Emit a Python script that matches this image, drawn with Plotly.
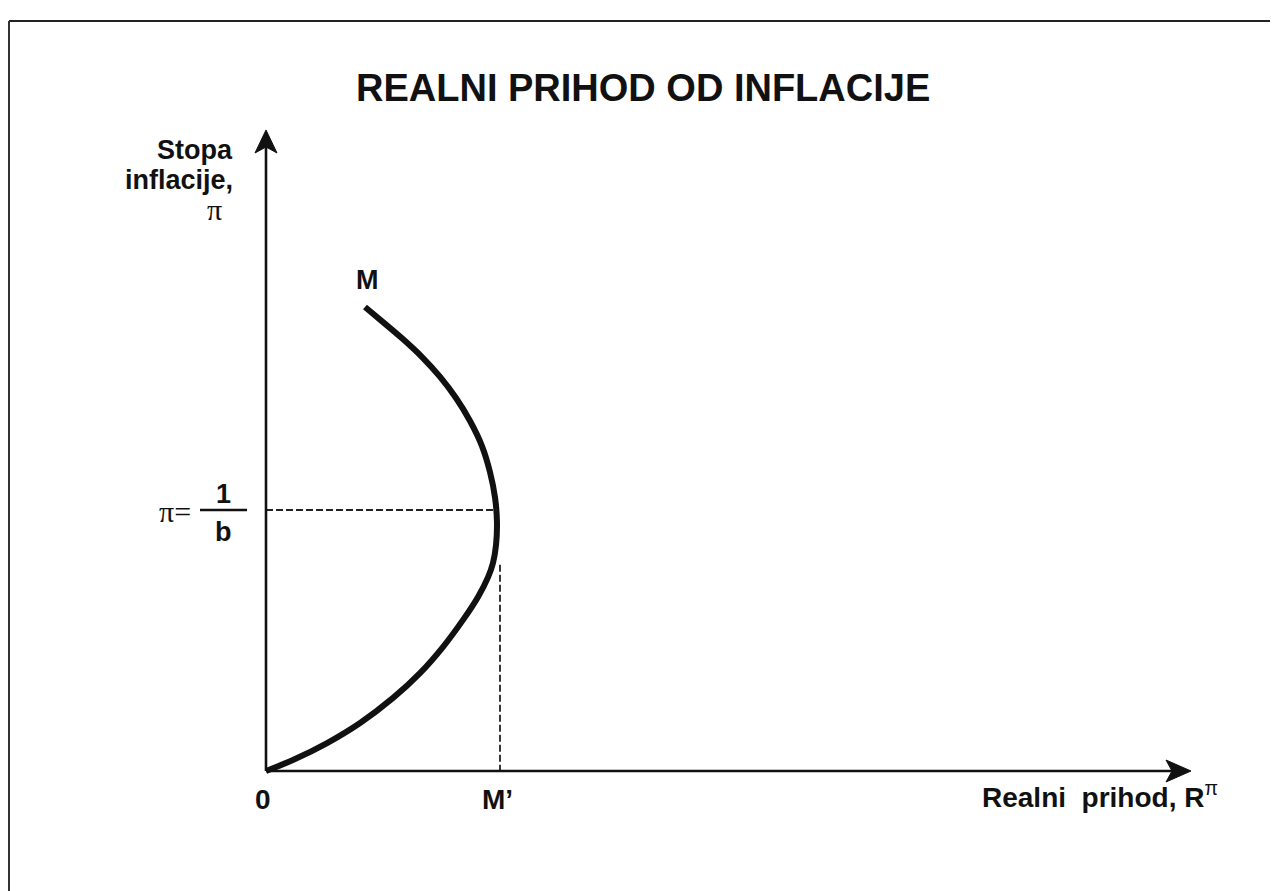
import plotly.graph_objects as go

# ---- data (x: real revenue in units of M', y: inflation rate in units of 1/b)
revenue = [0.423, 0.500, 0.585, 0.667, 0.744, 0.812, 0.872, 0.923, 0.957, 0.979, 0.987,
           0.983, 0.970, 0.949, 0.906, 0.842, 0.756, 0.658, 0.543, 0.402, 0.261, 0.115, 0.0]
inflation = [1.778, 1.720, 1.655, 1.586, 1.510, 1.429, 1.341, 1.245, 1.146, 1.046, 0.954,
             0.866, 0.797, 0.743, 0.667, 0.579, 0.475, 0.375, 0.280, 0.184, 0.107, 0.042, 0.0]
peak_revenue = 0.987
m_prime = 1.0          # M' on the revenue axis
pi_star = 1.0          # pi = 1/b on the inflation axis
x_tick_vals = [0.0, m_prime]
x_tick_text = ["0", "M\u2019"]
y_axis_top = 2.456
x_axis_end = 3.953

# page body has an 8px margin; figure fills the rest of the window
OFF = 8
W, H = 1278 - OFF, 891 - OFF
X0, XS = 266, 234   # reference pixel of origin, pixels per unit
Y0, YS = 771, 261


def px2paper(px, py):
    return (px - OFF) / W, 1 - (py - OFF) / H


fig = go.Figure()

# curve M
fig.add_trace(go.Scatter(x=revenue, y=inflation, mode="lines",
                         line=dict(color="#111", width=6, shape="spline", smoothing=1.0),
                         hoverinfo="skip", showlegend=False))

shapes = []
# dashed guide lines
shapes.append(dict(type="line", xref="x", yref="y", x0=0, y0=pi_star, x1=peak_revenue, y1=pi_star,
                   line=dict(color="#222", width=1.8, dash="7px,3px")))
shapes.append(dict(type="line", xref="x", yref="y", x0=m_prime, y0=0.79, x1=m_prime, y1=0,
                   line=dict(color="#222", width=1.8, dash="7px,3px")))
# axes
ah_w, ah_l, ah_n = 11 / XS, 23 / YS, 17 / YS
shapes.append(dict(type="line", xref="x", yref="y", x0=0, y0=0, x1=0, y1=y_axis_top - ah_n,
                   line=dict(color="#111", width=2.6)))
shapes.append(dict(type="path", xref="x", yref="y",
                   path=(f"M0,{y_axis_top} L{-ah_w},{y_axis_top - ah_l} L0,{y_axis_top - ah_n} "
                         f"L{ah_w},{y_axis_top - ah_l} Z"),
                   fillcolor="#111", line=dict(color="#111", width=1)))
bh_l, bh_w, bh_n = 25 / XS, 11 / YS, 19 / XS
shapes.append(dict(type="line", xref="x", yref="y", x0=0, y0=0, x1=x_axis_end - bh_n, y1=0,
                   line=dict(color="#111", width=2.6)))
shapes.append(dict(type="path", xref="x", yref="y",
                   path=(f"M{x_axis_end},0 L{x_axis_end - bh_l},{bh_w} L{x_axis_end - bh_n},0 "
                         f"L{x_axis_end - bh_l},{-bh_w} Z"),
                   fillcolor="#111", line=dict(color="#111", width=1)))
# fraction bar of 1/b
shapes.append(dict(type="line", xref="x", yref="y", x0=-0.282, y0=pi_star, x1=-0.081, y1=pi_star,
                   line=dict(color="#111", width=2.5)))
# frame lines (top and left)
fx0, fy0 = px2paper(9, 21)
shapes.append(dict(type="line", xref="paper", yref="paper", x0=fx0, y0=fy0, x1=1.0, y1=fy0,
                   line=dict(color="#222", width=2.2)))
shapes.append(dict(type="line", xref="paper", yref="paper", x0=fx0, y0=fy0, x1=fx0, y1=0,
                   line=dict(color="#333", width=2.0)))

ann = []
FAM = "Liberation Sans, Arial, sans-serif"
bold = dict(family=FAM, size=27, color="#111")
serif = dict(family="Liberation Serif, DejaVu Serif, serif", size=30, color="#111")


def paper_text(txt, px, py, font, xanchor="center"):
    x, y = px2paper(px, py)
    ann.append(dict(x=x, y=y, xref="paper", yref="paper", showarrow=False, text=txt,
                    font=font, xanchor=xanchor, yanchor="middle"))


# title
paper_text("<b>REALNI PRIHOD OD INFLACIJE</b>", 643, 88, dict(family=FAM, size=38, color="#111"))

# y-axis title
paper_text("<b>Stopa</b>", 235, 150, bold, xanchor="right")
paper_text("<b>inflacije,</b>", 235, 180, bold, xanchor="right")
paper_text("\u03c0", 214, 210, serif)

# x tick labels
for v, t in zip(x_tick_vals, x_tick_text):
    ann.append(dict(x=v, y=-0.11, xref="x", yref="y", showarrow=False, text="<b>" + t + "</b>",
                    font=dict(family=FAM, size=28, color="#111"), xshift=-3,
                    xanchor="center", yanchor="middle"))

# y tick label pi = 1/b
ann.append(dict(x=-0.37, y=pi_star, xref="x", yref="y", showarrow=False, text="\u03c0=",
                font=serif, xanchor="right", yanchor="middle", xshift=14, yshift=-1))
ann.append(dict(x=-0.182, y=pi_star, xref="x", yref="y", showarrow=False, text="<b>1</b>",
                font=bold, xanchor="center", yanchor="middle", yshift=16))
ann.append(dict(x=-0.182, y=pi_star, xref="x", yref="y", showarrow=False, text="<b>b</b>",
                font=bold, xanchor="center", yanchor="middle", yshift=-22))

# curve label M
ann.append(dict(x=revenue[0], y=inflation[0], xref="x", yref="y", showarrow=False, text="<b>M</b>",
                font=bold, xanchor="center", yanchor="middle", xshift=3, yshift=27))

# x-axis title
paper_text("<b>Realni  prihod, R</b><sup>\u03c0</sup>", 1220, 795,
           dict(family=FAM, size=28, color="#111"), xanchor="right")

fig.update_layout(
    width=W, height=H, margin=dict(l=0, r=0, t=0, b=0),
    paper_bgcolor="white", plot_bgcolor="white",
    xaxis=dict(range=[(OFF - X0) / XS, (1278 - X0) / XS], visible=False, fixedrange=True),
    yaxis=dict(range=[(Y0 - 891) / YS, (Y0 - OFF) / YS], visible=False, fixedrange=True),
    shapes=shapes, annotations=ann, showlegend=False,
)

fig.write_html("out.html")
